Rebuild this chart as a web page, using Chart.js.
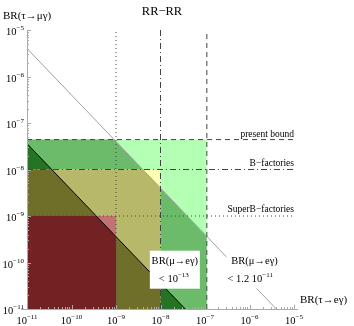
<!DOCTYPE html>
<html>
<head>
<meta charset="utf-8">
<script src="https://cdn.jsdelivr.net/npm/chart.js@4.4.1/dist/chart.umd.min.js"></script>
<style>
  html, body { margin: 0; padding: 0; background: #fff; }
  canvas { display: block; }
</style>
</head>
<body>
<canvas id="chart" width="354" height="326"></canvas>
<script>
// log axes: decades shown and labelled
var tickExponents = [-11, -10, -9, -8, -7, -6, -5];

// limits as [BR(tau->e gamma), BR(tau->mu gamma)]
var superB = [1e-9, 1e-9];
var bFactories = [1e-8, 1e-8];
var presentBound = [1.1e-7, 4.4e-8];
var limitNames = ['SuperB\u2212factories', 'B\u2212factories', 'present bound'];

// BR(mu->e gamma) contours, end points
var muEgNow = [{x: 1e-11, y: 4e-6}, {x: 4e-6, y: 1e-11}];
var muEgFuture = [{x: 1e-11, y: 3.6e-8}, {x: 3.6e-8, y: 1e-11}];

// upper edges of shaded regions (filled down to the x axis)
var regLightGreen = [{x: 1e-11, y: 4.4e-8}, {x: 1.1e-7, y: 4.4e-8}];
var regGreen = [{x: 1e-11, y: 4.4e-8}, {x: 9.1e-10, y: 4.4e-8}, {x: 1.1e-7, y: 3.6e-10}];
var regDarkGreen = [{x: 1e-11, y: 3.6e-8}, {x: 3.6e-8, y: 1e-11}];
var regYellow = [{x: 1e-11, y: 1e-8}, {x: 1e-8, y: 1e-8}];
var regOlive = [{x: 1e-11, y: 1e-8}, {x: 4e-9, y: 1e-8}, {x: 1e-8, y: 4e-9}];
var regDarkOlive = [{x: 1e-11, y: 1e-8}, {x: 3.6e-11, y: 1e-8}, {x: 1e-8, y: 3.6e-11}];
var regPink = [{x: 1e-11, y: 1e-9}, {x: 1e-9, y: 1e-9}];
var regDarkRed = [{x: 1e-11, y: 1e-9}, {x: 3.6e-10, y: 1e-9}, {x: 1e-9, y: 3.6e-10}];

var FONT = '"Liberation Serif", "DejaVu Serif", serif';

function hLine(y) { return [{x: 1e-11, y: y}, {x: 1e-5, y: y}]; }
function vLine(x) { return [{x: x, y: 1e-11}, {x: x, y: 1e-5}]; }

function region(data, color, order) {
  return { data: data, backgroundColor: color, borderWidth: 0, borderColor: color,
    fill: 'start', pointRadius: 0, order: order };
}
function line(data, color, dash, order) {
  return { data: data, borderColor: color, borderWidth: 1, borderDash: dash,
    fill: false, pointRadius: 0, order: order };
}

var datasets = [
  region(regLightGreen, '#b3ffb3', 20),
  region(regGreen, '#6bbb6b', 19),
  region(regDarkGreen, '#267326', 18),
  region(regYellow, '#ffffb3', 17),
  region(regOlive, '#b8b86b', 16),
  region(regDarkOlive, '#6f6f2a', 15),
  region(regPink, '#c27272', 14),
  region(regDarkRed, '#722222', 13),
  line(muEgNow, '#a0a0a0', [], 9),
  line(muEgFuture, '#000000', [], 8),
  line(hLine(presentBound[1]), '#444', [5, 4], 5),
  line(hLine(bFactories[1]), '#444', [6, 3, 1, 3], 5),
  line(hLine(superB[1]), '#444', [1, 3], 5),
  line(vLine(presentBound[0]), '#444', [5, 4], 5),
  line(vLine(bFactories[0]), '#444', [6, 3, 1, 3], 5),
  line(vLine(superB[0]), '#444', [1, 3], 5)
];

function powLabel(ctx, e, x, y, align) {
  var base = '10', sup = '\u2212' + Math.abs(e);
  ctx.font = '10.5px ' + FONT;
  var wb = ctx.measureText(base).width;
  ctx.font = '7px ' + FONT;
  var ws = ctx.measureText(sup).width;
  var x0 = align === 'right' ? x - wb - ws : x - (wb + ws) / 2;
  ctx.textAlign = 'left';
  ctx.textBaseline = 'alphabetic';
  ctx.font = '10.5px ' + FONT;
  ctx.fillText(base, x0, y);
  ctx.font = '7px ' + FONT;
  ctx.fillText(sup, x0 + wb, y - 5);
}

var mmaAxes = {
  id: 'mmaAxes',
  afterDatasetsDraw: function(chart) {
    var ctx = chart.ctx, xs = chart.scales.x, ys = chart.scales.y, a = chart.chartArea;
    ctx.save();

    // white label boxes
    ctx.fillStyle = '#fff';
    var b1x = xs.getPixelForValue(2.1e-8), b1y = ys.getPixelForValue(7e-11);
    ctx.fillRect(b1x - 25, b1y - 19, 50, 38);
    var b2x = xs.getPixelForValue(1.3e-6);
    ctx.fillRect(b2x - 28, b1y - 17, 57, 36);

    ctx.fillStyle = '#000';
    ctx.textAlign = 'center';
    ctx.textBaseline = 'middle';
    ctx.font = '10.5px ' + FONT;
    ctx.fillText('BR(\u03bc\u2192e\u03b3)', b1x, b1y - 8);
    ctx.fillText('BR(\u03bc\u2192e\u03b3)', b2x, b1y - 8);
    ctx.textAlign = 'left';
    ctx.fillText('< 10', b1x - 16, b1y + 10);
    var w = ctx.measureText('< 10').width;
    ctx.font = '7px ' + FONT;
    ctx.fillText('\u221213', b1x - 16 + w, b1y + 5);
    ctx.font = '10.5px ' + FONT;
    ctx.fillText('< 1.2 10', b2x - 27, b1y + 10);
    w = ctx.measureText('< 1.2 10').width;
    ctx.font = '7px ' + FONT;
    ctx.fillText('\u221211', b2x - 27 + w, b1y + 5);

    // limit names
    ctx.font = '9.5px ' + FONT;
    ctx.textAlign = 'right';
    ctx.textBaseline = 'alphabetic';
    var xr = xs.getPixelForValue(1e-5);
    ctx.fillText(limitNames[2], xr, ys.getPixelForValue(presentBound[1]) - 3);
    ctx.fillText(limitNames[1], xr, ys.getPixelForValue(bFactories[1]) - 4);
    ctx.fillText(limitNames[0], xr, ys.getPixelForValue(superB[1]) - 4);

    // axes
    ctx.strokeStyle = '#aaaaaa';
    ctx.lineWidth = 1;
    ctx.beginPath();
    ctx.moveTo(a.left - 6, Math.round(a.bottom) + 0.5);
    ctx.lineTo(xr + 4, Math.round(a.bottom) + 0.5);
    ctx.moveTo(Math.round(a.left) + 0.5, a.bottom);
    ctx.lineTo(Math.round(a.left) + 0.5, ys.getPixelForValue(1e-5));
    tickExponents.forEach(function(e, i) {
      for (var k = 1; k <= 9; k++) {
        if (i === tickExponents.length - 1 && k > 1) break;
        var v = k * Math.pow(10, e), len = k === 1 ? 4 : 2;
        var px = Math.round(xs.getPixelForValue(v)) + 0.5;
        var py = Math.round(ys.getPixelForValue(v)) + 0.5;
        ctx.moveTo(px, a.bottom);
        ctx.lineTo(px, a.bottom - len);
        ctx.moveTo(a.left, py);
        ctx.lineTo(a.left + len, py);
      }
    });
    ctx.stroke();

    // tick labels
    ctx.fillStyle = '#000';
    tickExponents.forEach(function(e) {
      powLabel(ctx, e, xs.getPixelForValue(Math.pow(10, e)), a.bottom + 15, 'center');
      powLabel(ctx, e, a.left - 3, ys.getPixelForValue(Math.pow(10, e)) + 5, 'right');
    });

    // titles
    ctx.font = '11px ' + FONT;
    ctx.textAlign = 'left';
    ctx.textBaseline = 'middle';
    ctx.fillText('BR(\u03c4\u2192\u03bc\u03b3)', 3, 16);
    ctx.fillText('BR(\u03c4\u2192e\u03b3)', xr + 6, a.bottom - 9);
    ctx.font = '12.5px ' + FONT;
    ctx.textAlign = 'center';
    ctx.fillText('RR\u2212RR', 162, 12);
    ctx.restore();
  }
};

new Chart(document.getElementById('chart'), {
  type: 'line',
  data: { datasets: datasets },
  options: {
    responsive: false,
    animation: false,
    devicePixelRatio: 1,
    layout: { padding: { left: 27, top: 30, right: 60, bottom: 17 } },
    plugins: { legend: { display: false }, tooltip: { enabled: false } },
    elements: { line: { tension: 0 } },
    scales: {
      x: { type: 'logarithmic', min: 1e-11, max: 1e-5, display: false },
      y: { type: 'logarithmic', min: 1e-11, max: 1e-5, display: false }
    }
  },
  plugins: [mmaAxes]
});
</script>
</body>
</html>
